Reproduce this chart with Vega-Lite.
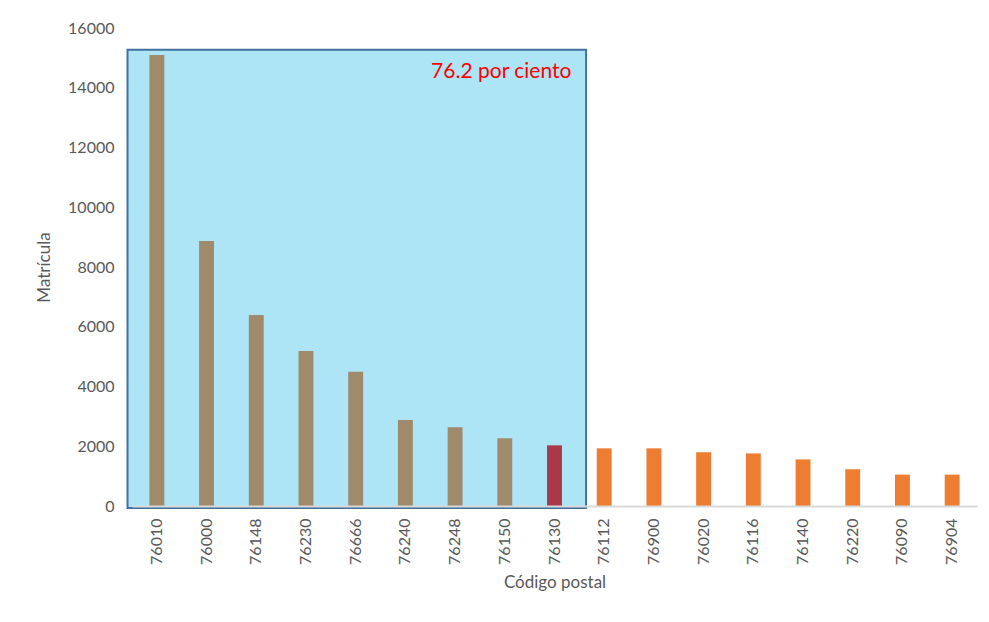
{
  "$schema": "https://vega.github.io/schema/vega-lite/v6.json",
  "autosize": "none",
  "width": 845,
  "height": 478,
  "padding": {"left": 132, "top": 28, "right": 12, "bottom": 116},
  "background": "white",
  "config": {"view": {"stroke": null}, "font": "Lato"},
  "datasets": {
    "bars": [
      {"codigo": "76010", "matricula": 15100, "grupo": "a"},
      {"codigo": "76000", "matricula": 8870, "grupo": "a"},
      {"codigo": "76148", "matricula": 6390, "grupo": "a"},
      {"codigo": "76230", "matricula": 5190, "grupo": "a"},
      {"codigo": "76666", "matricula": 4490, "grupo": "a"},
      {"codigo": "76240", "matricula": 2880, "grupo": "a"},
      {"codigo": "76248", "matricula": 2640, "grupo": "a"},
      {"codigo": "76150", "matricula": 2270, "grupo": "a"},
      {"codigo": "76130", "matricula": 2030, "grupo": "b"},
      {"codigo": "76112", "matricula": 1930, "grupo": "c"},
      {"codigo": "76900", "matricula": 1930, "grupo": "c"},
      {"codigo": "76020", "matricula": 1800, "grupo": "c"},
      {"codigo": "76116", "matricula": 1760, "grupo": "c"},
      {"codigo": "76140", "matricula": 1560, "grupo": "c"},
      {"codigo": "76220", "matricula": 1230, "grupo": "c"},
      {"codigo": "76090", "matricula": 1050, "grupo": "c"},
      {"codigo": "76904", "matricula": 1050, "grupo": "c"}
    ],
    "box": [
      {"inicio": "76010", "fin": "76130", "arriba": 15270, "abajo": -70, "etiqueta": "76.2 por ciento", "ytexto": 14520}
    ]
  },
  "encoding": {
    "x": {
      "type": "nominal",
      "scale": {
        "domain": ["76010", "76000", "76148", "76230", "76666", "76240", "76248", "76150", "76130", "76112", "76900", "76020", "76116", "76140", "76220", "76090", "76904"],
        "paddingInner": 0,
        "paddingOuter": 0
      }
    }
  },
  "layer": [
    {
      "data": {"name": "box"},
      "mark": {"type": "rect", "fill": "#ADE5F7", "stroke": "#41719C", "strokeWidth": 2},
      "encoding": {
        "x": {"field": "inicio", "type": "nominal", "bandPosition": -0.09},
        "x2": {"field": "fin", "bandPosition": 1.135},
        "y": {"field": "arriba", "type": "quantitative"},
        "y2": {"field": "abajo"}
      }
    },
    {
      "data": {"name": "bars"},
      "mark": {"type": "bar", "width": {"band": 0.3}},
      "encoding": {
        "x": {
          "field": "codigo",
          "type": "nominal",
          "axis": {
            "title": "Código postal",
            "titleFontSize": 17,
            "titleFontWeight": "normal",
            "titleColor": "#595959",
            "titlePadding": 10,
            "labelAngle": 270,
            "labelAlign": "right",
            "labelBaseline": "middle",
            "labelFontSize": 16,
            "labelColor": "#595959",
            "labelPadding": 12,
            "ticks": false,
            "domainColor": "#D9D9D9",
            "domainWidth": 2
          }
        },
        "y": {
          "field": "matricula",
          "type": "quantitative",
          "scale": {"domain": [0, 16000], "nice": false},
          "axis": {
            "title": "Matrícula",
            "titleFontSize": 17,
            "titleFontWeight": "normal",
            "titleColor": "#595959",
            "titlePadding": 14,
            "values": [0, 2000, 4000, 6000, 8000, 10000, 12000, 14000, 16000],
            "format": "d",
            "labelFontSize": 16,
            "labelColor": "#595959",
            "labelPadding": 18,
            "ticks": false,
            "domain": false,
            "grid": false
          }
        },
        "color": {
          "field": "grupo",
          "type": "nominal",
          "scale": {"domain": ["a", "b", "c"], "range": ["#9F8B6B", "#A93848", "#ED7D31"]},
          "legend": null
        }
      }
    },
    {
      "data": {"name": "box"},
      "mark": {"type": "text", "color": "#FF0000", "fontSize": 21, "align": "right", "baseline": "middle", "dx": -8},
      "encoding": {
        "x": {"field": "fin", "type": "nominal", "bandPosition": 1},
        "y": {"field": "ytexto", "type": "quantitative"},
        "text": {"field": "etiqueta"}
      }
    }
  ]
}
